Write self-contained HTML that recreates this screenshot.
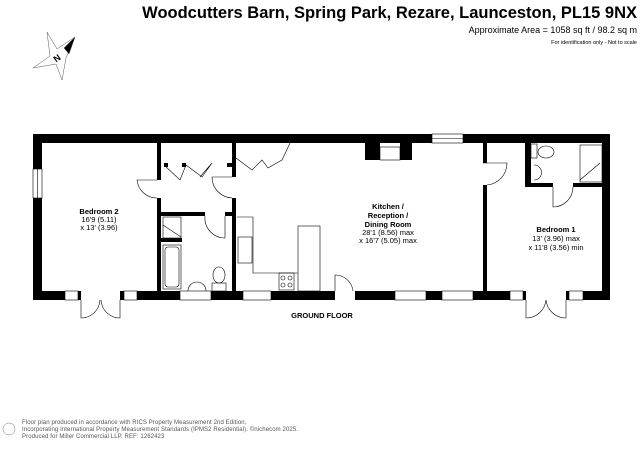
<!DOCTYPE html>
<html><head><style>
body{margin:0;background:#fff;}
svg{display:block;font-family:"Liberation Sans",sans-serif;}
</style></head><body>
<svg width="644" height="450" viewBox="0 0 644 450" xmlns="http://www.w3.org/2000/svg">
<text x="637" y="18" text-anchor="end" font-size="16.5" font-weight="bold">Woodcutters Barn, Spring Park, Rezare, Launceston, PL15 9NX</text>
<text x="637" y="33" text-anchor="end" font-size="9">Approximate Area = 1058 sq ft / 98.2 sq m</text>
<text x="637" y="44" text-anchor="end" font-size="5.5">For identification only - Not to scale</text>
<g stroke="#555" stroke-width="0.5" fill="#fff">
<polygon points="47,32 57,49 75,37 66,58 62,80 56,64 33,68 50,56"/>
<polygon points="75,37 64,48 69,54" fill="#000"/>
</g>
<text x="54" y="62" font-size="9" font-weight="bold" transform="rotate(-35 56 59)">N</text>
<g fill="#000">
<rect x="33" y="134" width="399" height="9"/>
<rect x="463" y="134" width="147" height="9"/>
<rect x="33" y="134" width="9" height="35"/>
<rect x="33" y="198" width="9" height="102"/>
<rect x="602" y="134" width="8" height="166"/>
<rect x="33" y="291" width="32" height="9"/>
<rect x="78" y="291" width="3" height="9"/>
<rect x="120" y="291" width="4" height="9"/>
<rect x="137" y="291" width="43" height="9"/>
<rect x="211" y="291" width="32" height="9"/>
<rect x="271" y="291" width="64" height="9"/>
<rect x="355" y="291" width="40" height="9"/>
<rect x="426" y="291" width="16" height="9"/>
<rect x="473" y="291" width="37" height="9"/>
<rect x="523" y="291" width="3" height="9"/>
<rect x="566" y="291" width="3" height="9"/>
<rect x="583" y="291" width="27" height="9"/>
<rect x="157" y="143" width="4" height="37"/>
<rect x="157" y="198" width="4" height="93"/>
<rect x="232" y="143" width="4" height="34"/>
<rect x="232" y="198" width="4" height="93"/>
<rect x="161" y="212" width="44" height="4"/>
<rect x="225" y="212" width="11" height="4"/>
<rect x="161" y="238" width="21" height="4"/>
<rect x="365" y="143" width="15" height="17"/>
<rect x="400" y="143" width="12" height="17"/>
<rect x="483" y="143" width="4" height="20"/>
<rect x="483" y="185" width="4" height="106"/>
<rect x="525" y="143" width="6" height="44"/>
<rect x="525" y="183" width="28" height="4"/>
<rect x="573" y="183" width="29" height="4"/>
<rect x="164" y="163" width="4" height="4"/><rect x="182" y="163" width="4" height="4"/><rect x="227" y="163" width="5" height="4"/>
</g>
<g fill="none" stroke="#000" stroke-width="0.6">
<rect x="33" y="169" width="9" height="29"/><line x1="37.5" y1="169" x2="37.5" y2="198"/>
<rect x="432" y="134" width="31" height="9"/><line x1="432" y1="138.5" x2="463" y2="138.5"/>
<rect x="65" y="291" width="13" height="9"/><rect x="124" y="291" width="13" height="9"/>
<rect x="180" y="291" width="31" height="9"/><rect x="243" y="291" width="28" height="9"/>
<rect x="395" y="291" width="31" height="9"/><rect x="442" y="291" width="31" height="9"/>
<rect x="510" y="291" width="13" height="9"/><rect x="569" y="291" width="14" height="9"/>
<rect x="380" y="147" width="20" height="13"/>
<path d="M157,180 L137,180 A20,20 0 0 0 157,198"/>
<path d="M232,177 L212,177 A21,21 0 0 0 232,198"/>
<path d="M225,216 L225,238 A20,20 0 0 1 205,216"/>
<path d="M483,163 L507,163 A22,22 0 0 1 487,185"/>
<path d="M553,187 L553,207 A20,20 0 0 0 573,187"/>
<path d="M335,291 L335,275 A18,18 0 0 1 353,291"/>
<path d="M81,300 L81,318 A19,19 0 0 0 100,300 M120,300 L120,318 A19,19 0 0 1 101,300"/>
<path d="M526,300 L526,318 A20,20 0 0 0 546,300 M566,300 L566,318 A20,20 0 0 1 546,300"/>
<polyline points="164,165 180,180 186,165 202,177 212,163 200,177"/>
<polyline points="236,158 252,170 262,160 268,168 282,160 290,143"/>
<rect x="163" y="217" width="18" height="21"/><line x1="163" y1="225" x2="181" y2="237"/>
<rect x="163" y="245" width="18" height="44"/><rect x="165" y="247" width="14" height="40" rx="3"/>
<path d="M188,291 A9,9 0 0 1 206,291"/>
<rect x="212" y="283" width="14" height="8"/><ellipse cx="219" cy="275" rx="6" ry="8"/>
<polyline points="237,217 253,217 253,273 298,273"/>
<rect x="298" y="226" width="22" height="65"/>
<rect x="238" y="237" width="14" height="26"/>
<rect x="279" y="273" width="15" height="17"/>
<circle cx="283" cy="278" r="2"/><circle cx="290" cy="278" r="2"/><circle cx="283" cy="285" r="2"/><circle cx="290" cy="285" r="2"/>
<rect x="531" y="144" width="6" height="14"/><ellipse cx="546" cy="152" rx="8" ry="6"/>
<path d="M534,165 A7,7 0 0 1 534,180"/>
<rect x="580" y="145" width="22" height="37"/><line x1="580" y1="180" x2="600" y2="163"/>
</g>
<g font-size="7.5" text-anchor="middle">
<text x="99" y="214" font-weight="bold">Bedroom 2</text>
<text x="99" y="222">16'9 (5.11)</text>
<text x="99" y="230">x 13' (3.96)</text>
<text x="388" y="209" font-weight="bold">Kitchen /</text>
<text x="388" y="218" font-weight="bold">Reception /</text>
<text x="388" y="227" font-weight="bold">Dining Room</text>
<text x="388" y="235">28'1 (8.56) max</text>
<text x="388" y="243">x 16'7 (5.05) max</text>
<text x="556" y="232" font-weight="bold">Bedroom 1</text>
<text x="556" y="241">13' (3.96) max</text>
<text x="556" y="250">x 11'8 (3.56) min</text>
<text x="322" y="318" font-weight="bold">GROUND FLOOR</text>
</g>
<g font-size="6" fill="#555" letter-spacing="0.1">
<circle cx="9" cy="429" r="6" fill="none" stroke="#777" stroke-width="0.5"/>
<text x="22" y="424">Floor plan produced in accordance with RICS Property Measurement 2nd Edition,</text>
<text x="22" y="431">Incorporating International Property Measurement Standards (IPMS2 Residential).    ©nichecom 2025.</text>
<text x="22" y="438">Produced for Miller Commercial LLP.     REF:     1262423</text>
</g>
</svg>
</body></html>
